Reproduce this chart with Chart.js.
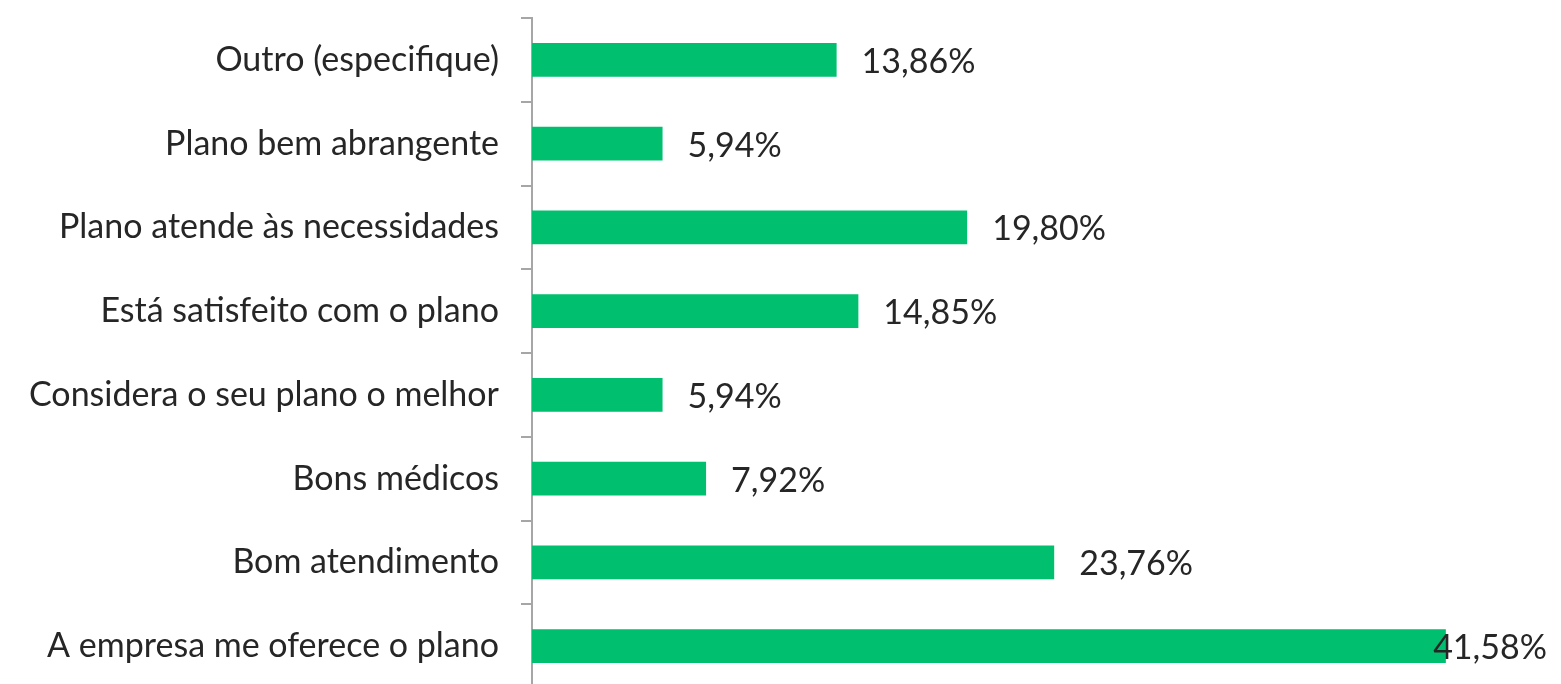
<!DOCTYPE html>
<html>
<head>
<meta charset="utf-8">
<script src="https://cdn.jsdelivr.net/npm/chart.js@4"></script>
<style>
  html, body { margin: 0; padding: 0; background: #fff; overflow: hidden; }
  #wrap { width: 1561px; height: 692px; }
</style>
</head>
<body>
<div id="wrap"><canvas id="myChart" width="1561" height="692"></canvas></div>
<script>
// categorias (de cima para baixo) e percentuais
const categorias = [
  'Outro (especifique)',
  'Plano bem abrangente',
  'Plano atende às necessidades',
  'Está satisfeito com o plano',
  'Considera o seu plano o melhor',
  'Bons médicos',
  'Bom atendimento',
  'A empresa me oferece o plano'
]
const percentuais = [13.86, 5.94, 19.80, 14.85, 5.94, 7.92, 23.76, 41.58]
const rotulos = ['13,86%', '5,94%', '19,80%', '14,85%', '5,94%', '7,92%', '23,76%', '41,58%']

const fonte = 'Lato, Carlito, "Open Sans", sans-serif'

// desenha o rótulo de valor à direita de cada barra
const rotulosPlugin = {
  id: 'rotulos',
  afterDatasetsDraw(chart) {
    const ctx = chart.ctx
    const meta = chart.getDatasetMeta(0)
    ctx.save()
    ctx.font = '34px ' + fonte
    ctx.fillStyle = '#262626'
    ctx.textBaseline = 'middle'
    meta.data.forEach((bar, i) => {
      const txt = rotulos[i]
      const w = ctx.measureText(txt).width
      let x = bar.x + 25
      if (x + w > chart.width - 14) x = chart.width - 14 - w
      ctx.fillText(txt, x, bar.y + 2)
    })
    ctx.restore()
  }
}

const ctx = document.getElementById('myChart').getContext('2d')

new Chart(ctx, {
  type: 'bar',
  data: {
    labels: categorias,
    datasets: [
      {
        data: percentuais,
        backgroundColor: '#00BF6F',
        categoryPercentage: 1,
        barPercentage: 0.405
      }
    ]
  },
  options: {
    indexAxis: 'y',
    responsive: false,
    animation: false,
    layout: { padding: { top: 18, right: 40, bottom: 4, left: 0 } },
    plugins: {
      legend: { display: false },
      tooltip: { enabled: false }
    },
    scales: {
      x: {
        display: false,
        min: 0,
        max: 45
      },
      y: {
        afterFit(scale) {
          // sem folga extra em cima/embaixo, eixo fixo em x=532
          scale.paddingTop = 0
          scale.paddingBottom = 0
          scale.width = 532
        },
        grid: {
          offset: true,
          drawOnChartArea: false,
          tickLength: 11,
          color: '#A6A6A6',
          lineWidth: 2
        },
        border: { color: '#A6A6A6', width: 2 },
        ticks: {
          color: '#262626',
          padding: 22,
          font: { family: fonte, size: 34 }
        }
      }
    }
  },
  plugins: [rotulosPlugin]
})
</script>
</body>
</html>
